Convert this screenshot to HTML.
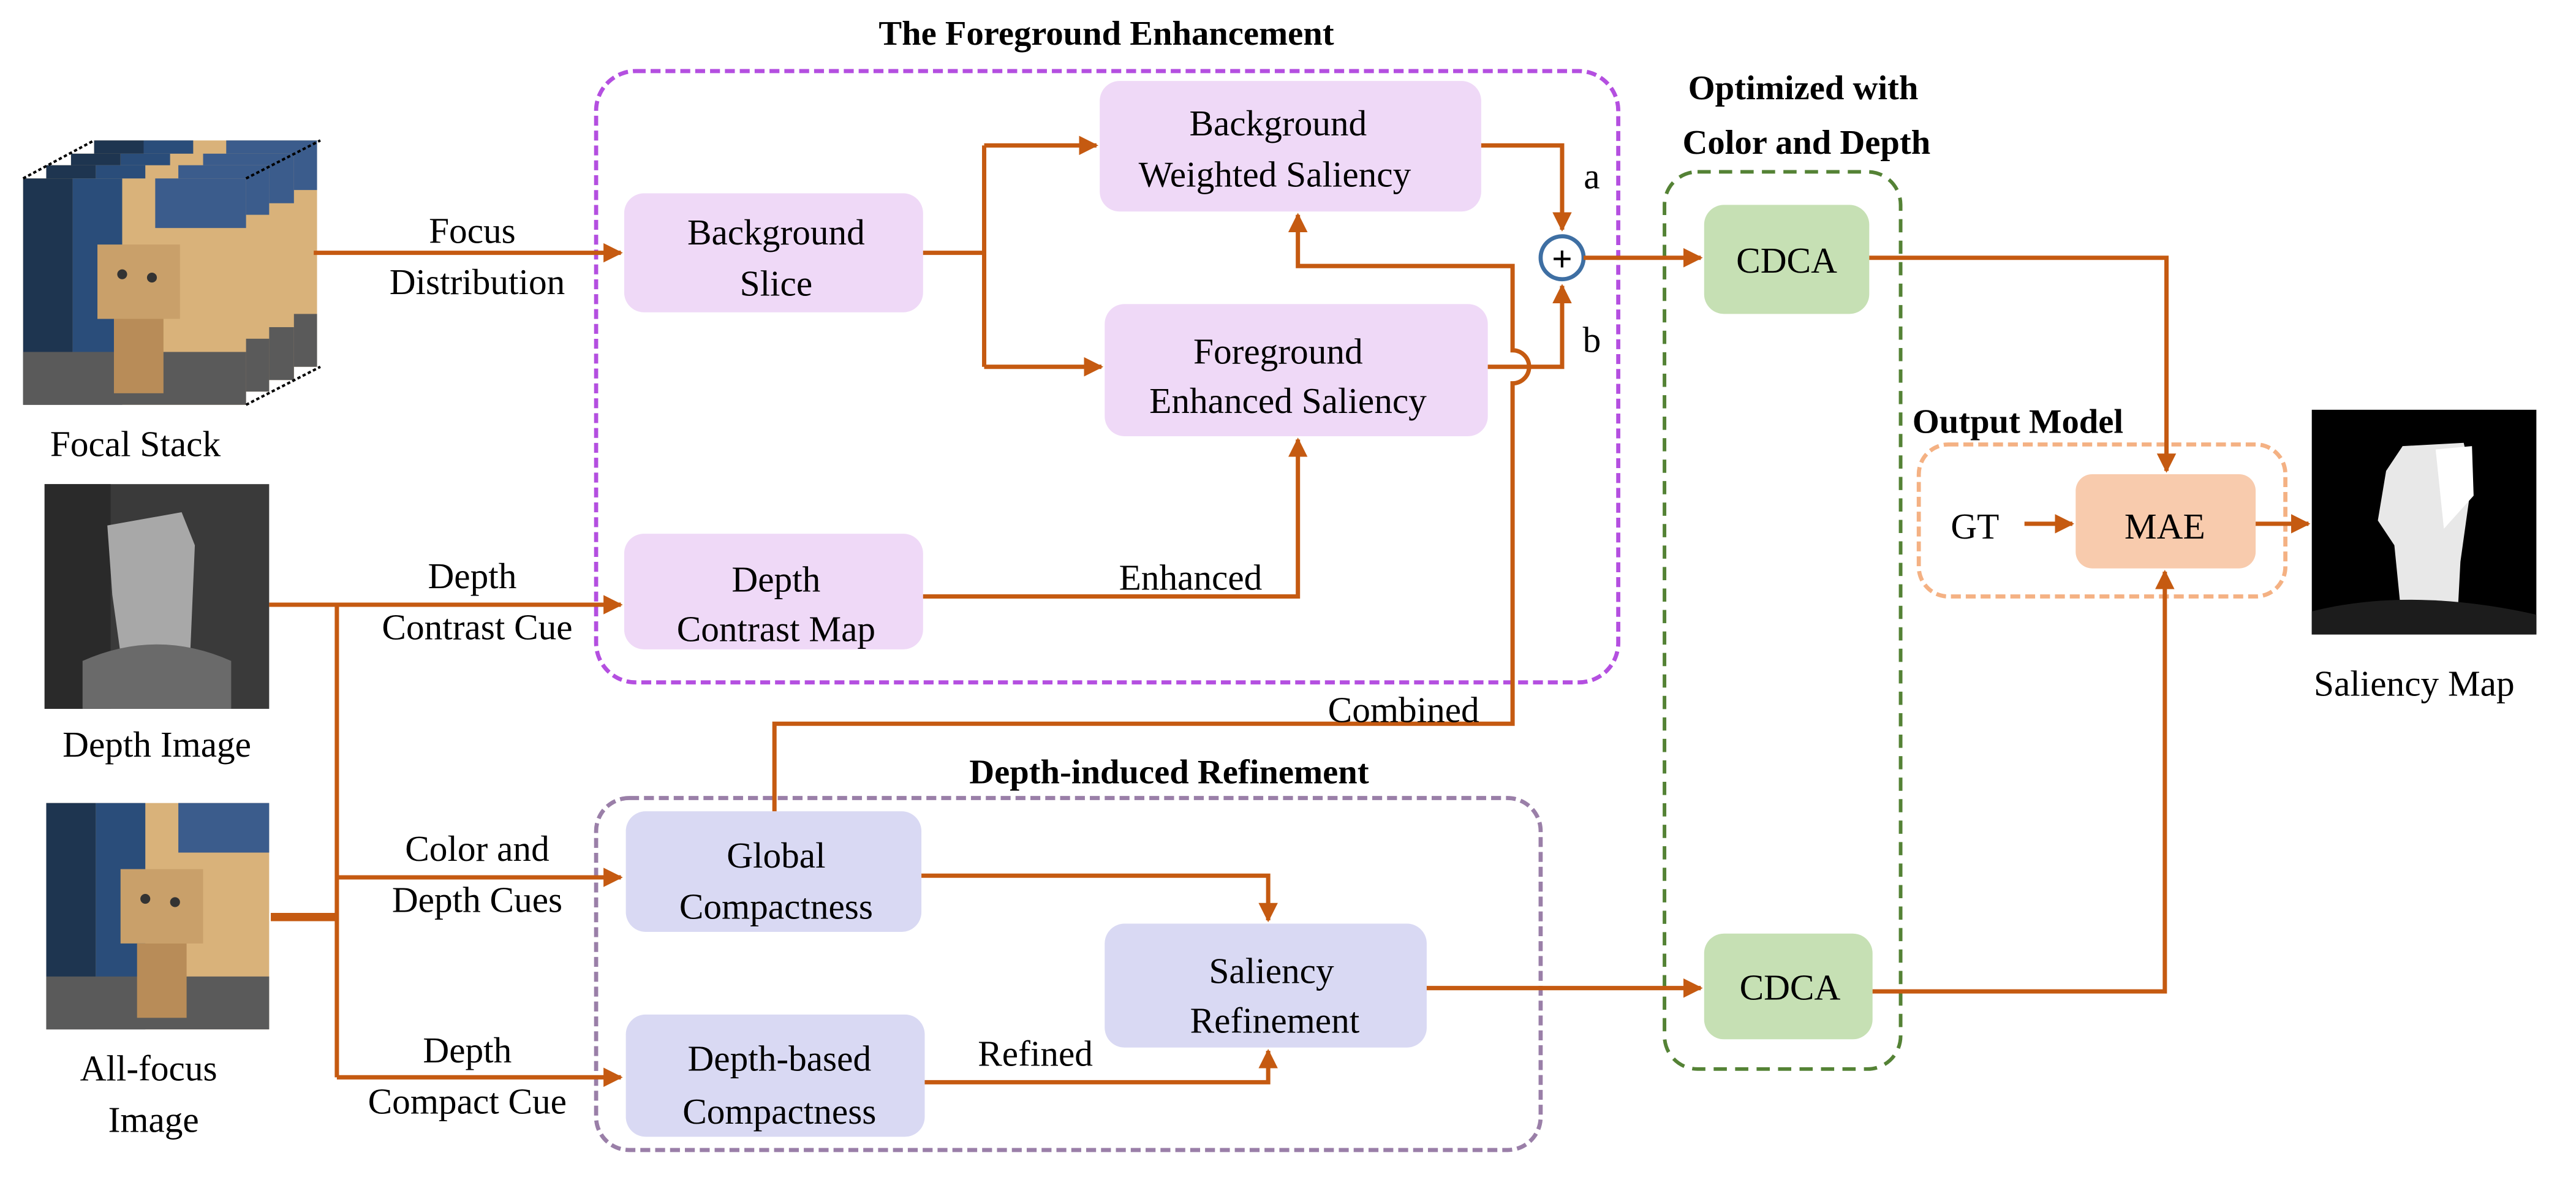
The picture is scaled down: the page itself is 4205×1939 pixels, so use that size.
<!DOCTYPE html>
<html><head><meta charset="utf-8"><style>
html,body{margin:0;padding:0;background:#fff;}
svg{display:block;font-family:"Liberation Serif","Times New Roman",serif;}
text{font-family:"Liberation Serif","Times New Roman",serif;fill:#000;}
.t{font-size:22px;text-anchor:middle;}
.b{font-size:21px;font-weight:bold;text-anchor:middle;}
.l{stroke:#c55a11;stroke-width:2.6;fill:none;}
</style></head><body>
<svg width="4205" height="1939" viewBox="0 0 1560 719" preserveAspectRatio="none" xmlns="http://www.w3.org/2000/svg" font-family="Liberation Serif, serif">
<defs>
<marker id="a" viewBox="0 0 10 10" refX="9" refY="5" markerWidth="4.5" markerHeight="4.5" orient="auto" markerUnits="strokeWidth">
<path d="M0,0 L10,5 L0,10 z" fill="#c55a11"/></marker>
<g id="photo">
<rect x="0" y="0" width="135" height="137" fill="#d9b27a"/>
<rect x="0" y="0" width="30" height="137" fill="#1e3550"/>
<rect x="30" y="0" width="30" height="137" fill="#2a4d7a"/>
<rect x="80" y="0" width="55" height="30" fill="#3b5c8c"/>
<rect x="0" y="105" width="135" height="32" fill="#5a5a5a"/>
<rect x="45" y="40" width="50" height="45" fill="#c9a06a"/>
<rect x="55" y="85" width="30" height="45" fill="#b88c58"/>
<circle cx="60" cy="58" r="3" fill="#333"/><circle cx="78" cy="60" r="3" fill="#333"/>
</g>
</defs>

<g>
<use href="#photo" x="57" y="85"/>
<use href="#photo" x="43" y="93"/>
<use href="#photo" x="28" y="100"/>
<use href="#photo" x="14" y="108"/>
<path d="M14,108 L57,85 M149,245 L194,222 M149,108 L194,85" stroke="#000" stroke-width="1.5" stroke-dasharray="2,1.5" fill="none"/>
</g>
<text class="t" x="82" y="276">Focal Stack</text>

<rect x="27" y="293" width="136" height="136" fill="#3a3a3a"/>
<rect x="27" y="293" width="40" height="136" fill="#2a2a2a"/>
<path d="M65,318 L110,310 L118,330 L115,400 L75,410 L68,360 z" fill="#a8a8a8"/>
<path d="M50,400 Q95,380 140,400 L140,429 L50,429 z" fill="#6a6a6a"/>
<text class="t" x="95" y="458">Depth Image</text>

<use href="#photo" x="28" y="486"/>
<text class="t" x="90" y="654">All-focus</text>
<text class="t" x="93" y="685">Image</text>

<text class="b" x="670" y="27">The Foreground Enhancement</text>
<rect x="361" y="43" width="619" height="370" rx="24" fill="none" stroke="#b44fe0" stroke-width="2.5" stroke-dasharray="6,3"/>
<rect x="666" y="49" width="231" height="79" rx="12" fill="#efd9f7"/>
<text class="t" x="774" y="82">Background</text><text class="t" x="772" y="113">Weighted Saliency</text>
<rect x="378" y="117" width="181" height="72" rx="12" fill="#efd9f7"/>
<text class="t" x="470" y="148">Background</text><text class="t" x="470" y="179">Slice</text>
<rect x="669" y="184" width="232" height="80" rx="12" fill="#efd9f7"/>
<text class="t" x="774" y="220">Foreground</text><text class="t" x="780" y="250">Enhanced Saliency</text>
<rect x="378" y="323" width="181" height="70" rx="12" fill="#efd9f7"/>
<text class="t" x="470" y="358">Depth</text><text class="t" x="470" y="388">Contrast Map</text>

<text class="b" x="1092" y="60">Optimized with</text>
<text class="b" x="1094" y="93">Color and Depth</text>
<rect x="1008" y="104" width="143" height="543" rx="20" fill="none" stroke="#548235" stroke-width="2.2" stroke-dasharray="8,5"/>
<rect x="1032" y="124" width="100" height="66" rx="12" fill="#c6e0b4"/>
<text class="t" x="1082" y="165">CDCA</text>
<rect x="1032" y="565" width="102" height="64" rx="12" fill="#c6e0b4"/>
<text class="t" x="1084" y="605">CDCA</text>

<text class="b" x="1222" y="262">Output Model</text>
<rect x="1162" y="269" width="222" height="92" rx="18" fill="none" stroke="#f4b183" stroke-width="2.5" stroke-dasharray="6,3"/>
<text class="t" x="1196" y="326">GT</text>
<rect x="1257" y="287" width="109" height="57" rx="10" fill="#f8cbad"/>
<text class="t" x="1311" y="326">MAE</text>

<rect x="1400" y="248" width="136" height="136" fill="#000"/>
<path d="M1455,270 L1492,268 L1497,290 L1490,340 L1488,378 L1455,380 L1450,330 L1440,315 L1445,285 z" fill="#e8e8e8"/>
<path d="M1475,272 L1497,270 L1498,300 L1480,320 z" fill="#ffffff"/>
<path d="M1400,370 Q1460,355 1536,372 L1536,384 L1400,384 z" fill="#1c1c1c"/>
<text class="t" x="1462" y="421">Saliency Map</text>

<text class="b" x="708" y="474">Depth-induced Refinement</text>
<rect x="361" y="483" width="572" height="213" rx="20" fill="none" stroke="#9a7fa8" stroke-width="2.5" stroke-dasharray="6,3"/>
<rect x="379" y="491" width="179" height="73" rx="12" fill="#d9d9f3"/>
<text class="t" x="470" y="525">Global</text><text class="t" x="470" y="556">Compactness</text>
<rect x="379" y="614" width="181" height="74" rx="12" fill="#d9d9f3"/>
<text class="t" x="472" y="648">Depth-based</text><text class="t" x="472" y="680">Compactness</text>
<rect x="669" y="559" width="195" height="75" rx="12" fill="#d9d9f3"/>
<text class="t" x="770" y="595">Saliency</text><text class="t" x="772" y="625">Refinement</text>

<path class="l" d="M190,153 L376,153" marker-end="url(#a)"/>
<text class="t" x="286" y="147">Focus</text><text class="t" x="289" y="178">Distribution</text>
<path class="l" d="M559,153 L596,153"/>
<path class="l" d="M596,88 L596,222"/>
<path class="l" d="M596,88 L664,88" marker-end="url(#a)"/>
<path class="l" d="M596,222 L667,222" marker-end="url(#a)"/>
<path class="l" d="M897,88 L946,88 L946,139" marker-end="url(#a)"/>
<path class="l" d="M901,222 L946,222 L946,173" marker-end="url(#a)"/>
<text class="t" x="964" y="114">a</text><text class="t" x="964" y="213">b</text>
<circle cx="946" cy="156" r="13" fill="#fff" stroke="#3e6fa3" stroke-width="2.5"/>
<text x="946" y="164" style="font-size:22px;font-weight:bold;text-anchor:middle">+</text>
<path class="l" d="M959,156 L1030,156" marker-end="url(#a)"/>
<path class="l" d="M1132,156 L1312,156 L1312,285" marker-end="url(#a)"/>
<path class="l" d="M1226,317 L1255,317" marker-end="url(#a)"/>
<path class="l" d="M1366,317 L1398,317" marker-end="url(#a)"/>
<path class="l" d="M163,366 L376,366" marker-end="url(#a)"/>
<text class="t" x="286" y="356">Depth</text><text class="t" x="289" y="387">Contrast Cue</text>
<path class="l" d="M559,361 L786,361 L786,266" marker-end="url(#a)"/>
<text class="t" x="721" y="357">Enhanced</text>
<path class="l" d="M469,491 L469,438 L916,438 L916,232 A10,10 0 0 0 916,212 L916,161 L786,161 L786,130" marker-end="url(#a)"/>
<text class="t" x="850" y="437">Combined</text>
<path d="M164,555 L204,555" stroke="#c55a11" stroke-width="5"/>
<path class="l" d="M204,366 L204,652"/>
<path class="l" d="M204,531 L376,531" marker-end="url(#a)"/>
<path class="l" d="M204,652 L376,652" marker-end="url(#a)"/>
<text class="t" x="289" y="521">Color and</text><text class="t" x="289" y="552">Depth Cues</text>
<text class="t" x="283" y="643">Depth</text><text class="t" x="283" y="674">Compact Cue</text>
<path class="l" d="M558,530 L768,530 L768,557" marker-end="url(#a)"/>
<path class="l" d="M560,655 L768,655 L768,636" marker-end="url(#a)"/>
<text class="t" x="627" y="645">Refined</text>
<path class="l" d="M864,598 L1030,598" marker-end="url(#a)"/>
<path class="l" d="M1134,600 L1311,600 L1311,346" marker-end="url(#a)"/>
</svg>
</body></html>
